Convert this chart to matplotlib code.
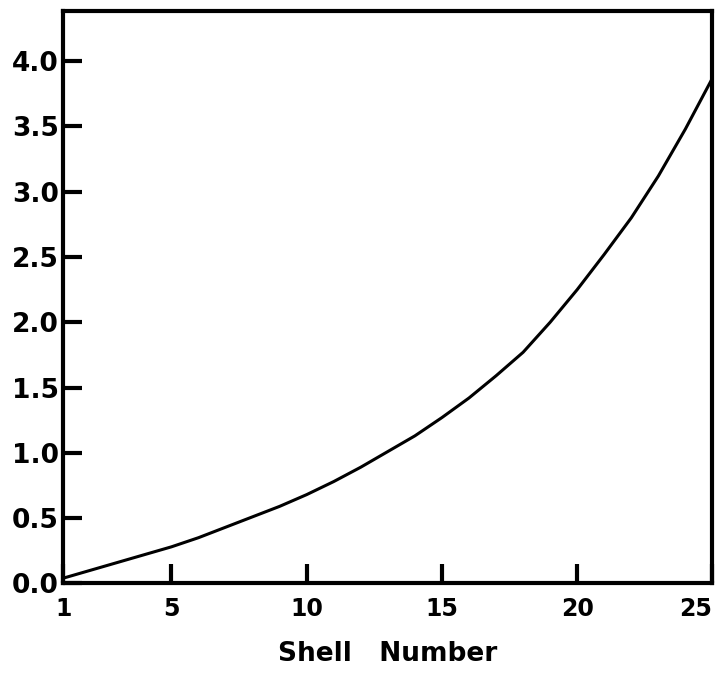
import matplotlib.pyplot as plt
import numpy as np

# shell index and the plotted quantity for each shell
shells = list(range(1, 26))
values = [0.04, 0.10, 0.16, 0.22, 0.28, 0.35, 0.43, 0.51, 0.59, 0.68,
          0.78, 0.89, 1.01, 1.13, 1.27, 1.42, 1.59, 1.77, 2.00, 2.25,
          2.52, 2.80, 3.12, 3.48, 3.87]
xticks = [1, 5, 10, 15, 20, 25]
yticks = [0.0, 0.5, 1.0, 1.5, 2.0, 2.5, 3.0, 3.5, 4.0]

fig = plt.figure(figsize=(7.27, 6.76), dpi=100)
ax = fig.add_axes([0.087, 0.137, 0.893, 0.846])

ax.plot(shells, values, color="black", lw=2.2)

ax.set_xlim(1, 25)
ax.set_ylim(0, 4.38)
ax.set_xticks(xticks)
ax.set_yticks(yticks)
ax.set_yticklabels(["%.1f" % v for v in yticks])
for s in ax.spines.values():
    s.set_linewidth(3)
ax.tick_params(direction="in", length=14, width=3, pad=3)
ax.tick_params(axis="y", labelsize=19)
ax.tick_params(axis="x", labelsize=17, pad=10)
for lab in ax.get_xticklabels() + ax.get_yticklabels():
    lab.set_fontweight("bold")
ax.get_xticklabels()[-1].set_horizontalalignment("right")
ax.set_xlabel("Shell   Number", fontsize=19, fontweight="bold", labelpad=14)

fig.savefig("out.png", dpi=100)
